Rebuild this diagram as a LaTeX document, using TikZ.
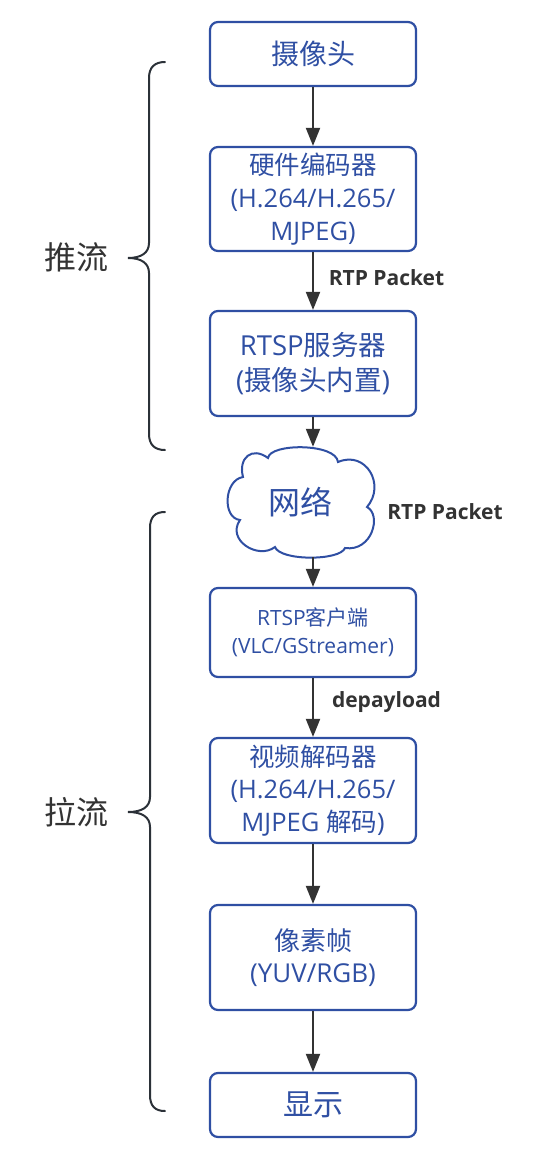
\documentclass[tikz,border=0pt]{standalone}
\usepackage{fontspec}
\setmainfont{Open Sans}
\newfontfamily\cjk{Noto Sans CJK SC}
\usetikzlibrary{arrows.meta}
\definecolor{bblue}{HTML}{2F4FA3}
\definecolor{dgray}{HTML}{333333}
\definecolor{brc}{HTML}{2B3138}
\begin{document}
\begin{tikzpicture}[x=1pt,y=-1pt,
  box/.style={draw=bblue, line width=2.2pt, rounded corners=8pt, minimum width=206pt, text=bblue, align=center, inner sep=0pt},
  arr/.style={draw=dgray, line width=2pt, -{Triangle[width=14pt,length=18pt]}},
  lbl/.style={text=dgray, font=\bfseries\fontsize{21}{25}\selectfont},
  brace/.style={draw=brc, line width=2pt, line cap=round},
  side/.style={text=dgray, font=\cjk\fontsize{32}{36}\selectfont},
  cloudline/.style={draw=bblue, line width=2pt}]
\useasboundingbox (0,0) rectangle (543,1152);

% boxes
\node[box, minimum height=64pt, font=\cjk\fontsize{28}{32}\selectfont] (b1) at (313,54) {摄像头};
\node[box, minimum height=104pt, font=\fontsize{25.5}{33}\selectfont] (b2) at (313,199) {{\cjk 硬件编码器}\\(H.264/H.265/\\MJPEG)};
\node[box, minimum height=105pt, font=\fontsize{27.5}{35}\selectfont] (b3) at (313,363.5) {RTSP{\cjk 服务器}\\({\cjk 摄像头内置})};
\node[minimum width=145pt, minimum height=110pt, inner sep=0pt, text=bblue, font=\cjk\fontsize{32}{36}\selectfont] (net) at (300,502) {网络};
\node[box, minimum height=89pt, font=\fontsize{21}{28}\selectfont] (b4) at (313,632.5) {RTSP{\cjk 客户端}\\(VLC/GStreamer)};
\node[box, minimum height=105pt, font=\fontsize{25.5}{32.5}\selectfont] (b5) at (313,790.5) {{\cjk 视频解码器}\\(H.264/H.265/\\MJPEG {\cjk 解码})};
\node[box, minimum height=105pt, font=\fontsize{26}{32}\selectfont] (b6) at (313,957.5) {{\cjk 像素帧}\\(YUV/RGB)};
\node[box, minimum height=64pt, font=\cjk\fontsize{30}{34}\selectfont] (b7) at (313,1105) {显示};

% cloud outline
\draw[cloudline] (268,458) .. controls (270,443) and (336,443) .. (338,462)
  .. controls (366,450) and (386,485) .. (367,507)
  .. controls (382,515) and (372,552) .. (345,548)
  .. controls (340,561) and (280,561) .. (275,547)
  .. controls (258,560) and (226,540) .. (240,520)
  .. controls (222,518) and (224,480) .. (243,477)
  .. controls (238,458) and (252,446) .. (268,458) -- cycle;

% connectors
\draw[arr] (b1) -- (b2);
\draw[arr] (b2) -- (b3);
\draw[arr] (b3.south) -- (b3.south |- net.north);
\draw[arr] (b4.north |- net.south) -- (b4.north);
\draw[arr] (b4) -- (b5);
\draw[arr] (b5) -- (b6);
\draw[arr] (b6) -- (b7);

% connector labels
\node[lbl] (l1) at (386.5,278) {RTP Packet};
\node[lbl] (l2) at (445,512) {RTP Packet};
\node[lbl] (l3) at (386.5,702) {depayload};

% braces
\draw[brace] (165,62) .. controls (155,62) and (149,67) .. (149,78) -- (149,243)
  .. controls (149,253) and (141,258) .. (128,258)
  .. controls (141,258) and (149,263) .. (149,273) -- (149,434)
  .. controls (149,445) and (155,450) .. (165,450);
\draw[brace] (165,512) .. controls (155,512) and (150,517) .. (150,528) -- (150,797)
  .. controls (150,807) and (142,812) .. (128,812)
  .. controls (142,812) and (150,817) .. (150,827) -- (150,1095)
  .. controls (150,1106) and (155,1111) .. (165,1111);

\node[side] (push) at (76,257) {推流};
\node[side] (pull) at (76,812) {拉流};
\end{tikzpicture}
\end{document}
